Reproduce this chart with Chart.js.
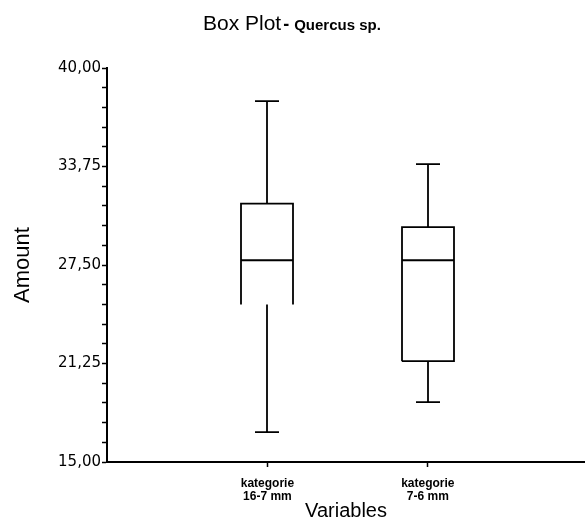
<!DOCTYPE html>
<html>
<head>
<meta charset="utf-8">
<title>Box Plot - Quercus sp.</title>
<script src="https://cdn.jsdelivr.net/npm/chart.js@4.4.1/dist/chart.umd.min.js"></script>
<style>
  html, body { margin: 0; padding: 0; background: #fff; }
  #wrap { width: 585px; height: 525px; }
</style>
</head>
<body>
<div id="wrap"><canvas id="box"></canvas></div>
<script>
// twig diameter classes
const categories = [["kategorie", "16-7 mm"], ["kategorie", "7-6 mm"]];
const mins    = [16.9, 18.8];
const q1s     = [25.0, 21.4];
const medians = [27.8, 27.8];
const q3s     = [31.4, 29.9];
const maxs    = [37.9, 33.9];
// the first box is printed open at the bottom
const closedBottom = [false, true];

const yTickLabels = ["15,00", "21,25", "27,50", "33,75", "40,00"];
const yMajor = [15, 21.25, 27.5, 33.75, 40];
const yMinorStep = 1.25;

const boxWidth = 52;
const capWidth = 24;

// draws the boxes and whiskers from the arrays above
const boxPlot = {
  id: "boxPlot",
  afterDatasetsDraw(chart) {
    const { ctx, scales: { x, y } } = chart;
    ctx.save();
    ctx.strokeStyle = "#000";
    ctx.lineWidth = 1.8;
    ctx.lineCap = "butt";
    categories.forEach((c, i) => {
      const cx = Math.round(x.getPixelForValue(i + 1));
      const l = cx - boxWidth / 2, r = cx + boxWidth / 2;
      const yMin = y.getPixelForValue(mins[i]);
      const yQ1 = y.getPixelForValue(q1s[i]);
      const yMed = y.getPixelForValue(medians[i]);
      const yQ3 = y.getPixelForValue(q3s[i]);
      const yMax = y.getPixelForValue(maxs[i]);
      ctx.beginPath();
      // box sides and top
      ctx.moveTo(l, yQ1); ctx.lineTo(l, yQ3); ctx.lineTo(r, yQ3); ctx.lineTo(r, yQ1);
      if (closedBottom[i]) ctx.lineTo(l, yQ1);
      // median
      ctx.moveTo(l, yMed); ctx.lineTo(r, yMed);
      // whiskers
      ctx.moveTo(cx, yQ3); ctx.lineTo(cx, yMax);
      ctx.moveTo(cx - capWidth / 2, yMax); ctx.lineTo(cx + capWidth / 2, yMax);
      ctx.moveTo(cx, yQ1); ctx.lineTo(cx, yMin);
      ctx.moveTo(cx - capWidth / 2, yMin); ctx.lineTo(cx + capWidth / 2, yMin);
      ctx.stroke();
    });
    ctx.restore();
  }
};

// two-font heading
const heading = {
  id: "heading",
  afterDraw(chart) {
    const ctx = chart.ctx;
    ctx.save();
    ctx.fillStyle = "#000";
    ctx.textBaseline = "alphabetic";
    ctx.textAlign = "left";
    ctx.font = "21px 'Liberation Sans', Arial, sans-serif";
    const main = "Box Plot";
    ctx.fillText(main, 203, 30);
    let xPos = 203 + ctx.measureText(main).width + 2;
    ctx.font = "bold 18px 'Liberation Sans', Arial, sans-serif";
    ctx.fillText("-", xPos, 30);
    xPos += ctx.measureText("-").width + 5;
    ctx.font = "bold 15px 'Liberation Sans', Arial, sans-serif";
    ctx.fillText("Quercus sp.", xPos, 30);
    ctx.restore();
  }
};

new Chart(document.getElementById("box"), {
  type: "scatter",
  data: { datasets: [{ data: [], showLine: false }] },
  options: {
    responsive: true,
    maintainAspectRatio: false,
    animation: false,
    layout: { padding: { top: 68, right: 0, bottom: 0, left: 0 } },
    plugins: { legend: { display: false }, tooltip: { enabled: false } },
    scales: {
      x: {
        type: "linear",
        min: 0,
        max: 2.98,
        afterBuildTicks: (s) => { s.ticks = categories.map((c, i) => ({ value: i + 1 })); },
        afterFit: (s) => { s.height = 63; },
        ticks: {
          callback: (v) => categories[v - 1],
          color: "#000",
          padding: 10,
          maxRotation: 0,
          font: { family: "'Liberation Sans', Arial, sans-serif", size: 12, weight: "bold", lineHeight: 1.1 }
        },
        grid: { drawOnChartArea: false, drawTicks: true, tickLength: 5, color: "#000", tickWidth: 1.5 },
        border: { display: true, color: "#000", width: 2 },
        title: {
          display: true,
          text: "Variables",
          color: "#000",
          padding: { top: 0, bottom: 2 },
          font: { family: "'Liberation Sans', Arial, sans-serif", size: 20 }
        }
      },
      y: {
        min: 15,
        max: 40,
        afterBuildTicks: (s) => {
          const t = [];
          for (let v = 15; v <= 40.001; v += yMinorStep) t.push({ value: v });
          s.ticks = t;
        },
        afterFit: (s) => { s.width = 107; },
        ticks: {
          callback: (v) => {
            const k = yMajor.findIndex(m => Math.abs(m - v) < 0.01);
            return k >= 0 ? yTickLabels[k] : "";
          },
          color: "#000",
          padding: 1,
          autoSkip: false,
          font: { family: "'DejaVu Sans', sans-serif", size: 15 }
        },
        grid: { drawOnChartArea: false, drawTicks: true, tickLength: 5, color: "#000", tickWidth: 1.5 },
        border: { display: true, color: "#000", width: 2 },
        title: {
          display: true,
          text: "Amount",
          color: "#000",
          padding: { top: 10, bottom: 0 },
          font: { family: "'Liberation Sans', Arial, sans-serif", size: 22 }
        }
      }
    }
  },
  plugins: [boxPlot, heading]
});
</script>
</body>
</html>
